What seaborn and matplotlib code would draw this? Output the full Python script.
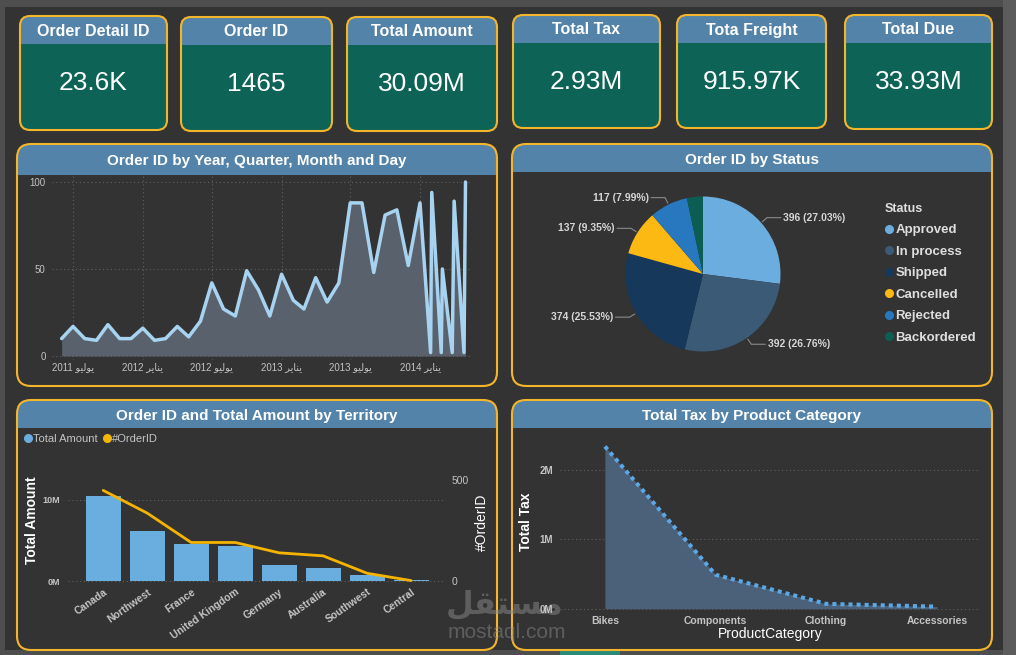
import numpy as np
import pandas as pd
import matplotlib.pyplot as plt
import matplotlib.dates as mdates
from matplotlib.patches import FancyBboxPatch, Rectangle
from matplotlib.lines import Line2D
from matplotlib.ticker import FuncFormatter
import seaborn as sns

# KPI cards
kpi_titles = ['Order Detail ID', 'Order ID', 'Total Amount', 'Total Tax', 'Tota Freight', 'Total Due']
kpi_values = ['23.6K', '1465', '30.09M', '2.93M', '915.97K', '33.93M']

# orders by month (daily points at the end of the series)
month_starts = pd.date_range('2011-06-01', '2014-01-01', freq='MS')
monthly_orders = [10, 17, 10, 9, 18, 10, 10,
                  16, 9, 10, 17, 11, 20, 42, 27, 23, 49, 38, 23,
                  47, 32, 27, 45, 31, 42, 88, 88, 48, 81, 84, 52,
                  88]
tail_dates = pd.to_datetime(['2014-01-29', '2014-02-01', '2014-02-26', '2014-03-01',
                             '2014-03-27', '2014-04-01', '2014-04-27', '2014-05-01'])
tail_orders = [2, 94, 2, 50, 2, 89, 2, 100]
tick_dates = pd.to_datetime(['2011-07-01', '2012-01-01', '2012-07-01',
                             '2013-01-01', '2013-07-01', '2014-01-01'])

# orders by status
status_names = ['Approved', 'In process', 'Shipped', 'Cancelled', 'Rejected', 'Backordered']
status_counts = [396, 392, 374, 137, 117, 49]
status_colors = ['#6cade0', '#3a5a75', '#15385b', '#fdb913', '#2878bf', '#0d5e52']

# territories
territories = ['Canada', 'Northwest', 'France', 'United Kingdom', 'Germany',
               'Australia', 'Southwest', 'Central']
territory_amount = [10.55e6, 6.15e6, 4.6e6, 4.3e6, 2.0e6, 1.6e6, 0.8e6, 0.09e6]
territory_orders = [447, 335, 190, 190, 139, 124, 38, 2]

# tax by product category
categories = ['Bikes', 'Components', 'Clothing', 'Accessories']
category_tax = [2.34e6, 0.49e6, 0.07e6, 0.03e6]

# arabic words, glyphs already shaped and in display order
month_ar = {1: '\ufeae\ufef3\ufe8e\ufee8\ufef3', 7: '\ufeee\ufef4\ufedf\ufeee\ufef3'}
brand_ar = '\ufede\ufed8\ufe98\ufeb4\ufee3'

W, H = 1016, 655
PANEL = '#333333'
HEAD = '#5383a8'
TEAL = '#0d6356'
ORANGE = '#f2b52c'
TICK = '#c4c4c4'
GRID = '#606060'
BAR = '#6aaee0'
LINE_OR = '#f5b400'

sns.set_theme(style='white')
plt.rcParams['font.family'] = ['Liberation Sans', 'DejaVu Sans']
plt.rcParams['axes.facecolor'] = 'none'

fig = plt.figure(figsize=(W / 100, H / 100), dpi=100, facecolor='#4e4e4e')
bg = fig.add_axes([0, 0, 1, 1])
bg.set_xlim(0, W)
bg.set_ylim(H, 0)
bg.axis('off')
bg.add_patch(Rectangle((5, 7), 998, 643, fc='#333333', ec='none'))
bg.add_patch(Rectangle((1003, 0), 13, H, fc='#5c5c5c', ec='none'))
bg.add_patch(Rectangle((560, 651), 60, 4, fc='#2a8a7a', ec='none'))


def px_axes(x0, y0, x1, y1):
    ax = fig.add_axes([x0 / W, 1 - y1 / H, (x1 - x0) / W, (y1 - y0) / H])
    ax.set_facecolor('none')
    return ax


def box(x0, y0, x1, y1, head_h, body, r):
    style = f'round,pad=0,rounding_size={r}'
    shape = FancyBboxPatch((x0, y0), x1 - x0, y1 - y0, boxstyle=style, fc=body, ec='none', zorder=1)
    bg.add_patch(shape)
    head = Rectangle((x0, y0), x1 - x0, head_h, fc=HEAD, ec='none', zorder=2)
    bg.add_patch(head)
    head.set_clip_path(shape)
    bg.add_patch(FancyBboxPatch((x0, y0), x1 - x0, y1 - y0, boxstyle=style,
                                fc='none', ec=ORANGE, lw=1.5, zorder=3))


# cards
cards_x = [(20, 167), (181, 332), (347, 497), (513, 660), (677, 826), (845, 992)]
cards_y = [(16, 130), (17, 131), (17, 131), (15, 128), (15, 128), (15, 129)]
for (x0, x1), (y0, y1), t, v in zip(cards_x, cards_y, kpi_titles, kpi_values):
    box(x0, y0, x1, y1, 28, TEAL, 10)
    bg.text((x0 + x1) / 2, y0 + 15, t, color='white', fontsize=11.5, weight='bold',
            ha='center', va='center', zorder=4)
    bg.text((x0 + x1) / 2, y0 + 67, v, color='white', fontsize=19,
            ha='center', va='center', zorder=4)

# panels
panels = [(17, 144, 497, 386, 31, 'Order ID by Year, Quarter, Month and Day'),
          (512, 144, 992, 386, 28, 'Order ID by Status'),
          (17, 400, 497, 650, 28, 'Order ID and Total Amount by Territory'),
          (512, 400, 992, 650, 28, 'Total Tax by Product Category')]
for x0, y0, x1, y1, hh, title in panels:
    box(x0, y0, x1, y1, hh, PANEL, 14)
    bg.text((x0 + x1) / 2, y0 + hh / 2 + 2, title, color='white', fontsize=11, weight='bold',
            ha='center', va='center', zorder=4)

# ---- orders over time
df_time = pd.DataFrame({'date': list(month_starts) + list(tail_dates),
                        'orders': monthly_orders + tail_orders})
ax1 = px_axes(52, 176, 472, 360)
ax1.set_axisbelow(True)
ax1.fill_between(df_time['date'], df_time['orders'], color='#59626c', lw=0, zorder=1)
sns.lineplot(data=df_time, x='date', y='orders', ax=ax1, color='#a7d2f0', lw=2.5,
             sort=False, estimator=None, solid_joinstyle='round', solid_capstyle='round',
             zorder=2)
jul = mdates.date2num(tick_dates[0])
jan = mdates.date2num(tick_dates[-1])
ppd = (420 - 73) / (jan - jul)
ax1.set_xlim(jul - 21 / ppd, jan + 52 / ppd)
ax1.set_ylim(-2.3, 103.45)
ax1.set_yticks([0, 50, 100])
ax1.set_xticks(tick_dates)
ax1.set_xticklabels([f'{d.year} {month_ar[d.month]}' for d in tick_dates])
ax1.grid(True, color=GRID, ls=(0, (1, 2.5)), lw=0.8, zorder=0)
ax1.tick_params(colors=TICK, labelsize=7, length=0)
ax1.tick_params(axis='y', pad=4.5)
ax1.tick_params(axis='x', pad=1.5)
ax1.set_xlabel('')
ax1.set_ylabel('')
sns.despine(ax=ax1, left=True, bottom=True)

# ---- status pie
ax2 = px_axes(603, 174, 803, 374)
wedges, _ = ax2.pie(status_counts, colors=status_colors, startangle=90, counterclock=False,
                    wedgeprops={'linewidth': 0})
ax2.set_xlim(-1.29, 1.29)
ax2.set_ylim(-1.29, 1.29)
ax2.set_aspect('equal')
total = sum(status_counts)
for w, n in zip(wedges, status_counts):
    if n / total < 0.05:
        continue
    ang = np.deg2rad((w.theta1 + w.theta2) / 2)
    ex, ey = np.cos(ang), np.sin(ang)
    side = 1 if ex > 0 else -1
    kx, ky = 1.1 * ex, 1.1 * ey
    ax2.plot([1.02 * ex, kx, kx + side * 0.18], [1.02 * ey, ky, ky], color='#8a8a8a',
             lw=0.8, clip_on=False)
    ax2.text(kx + side * 0.21, ky, f'{n} ({n / total:.2%})', ha='left' if side > 0 else 'right',
             va='center', fontsize=7.5, weight='bold', color='#d6d6d6')
handles = [Line2D([], [], marker='o', ls='', color=c, markersize=5.5) for c in status_colors]
leg = ax2.legend(handles, status_names, title='Status', loc='upper left',
                 bbox_to_anchor=(885 / W, 1 - 203 / H), bbox_transform=fig.transFigure,
                 frameon=False, prop={'size': 9.5, 'weight': 'bold'},
                 title_fontproperties={'size': 9, 'weight': 'bold'}, labelcolor='#dedede',
                 alignment='left', handlelength=0.6, handletextpad=0.2, labelspacing=0.7,
                 borderpad=0, borderaxespad=0)
leg.get_title().set_color('#dedede')

# ---- territory bars + orders line
ax3 = px_axes(68, 470, 445, 584)
sns.barplot(x=territories, y=territory_amount, color=BAR, saturation=1, width=0.79,
            linewidth=0, ax=ax3)
ax3b = ax3.twinx()
sns.lineplot(x=territories, y=territory_orders, ax=ax3b, color=LINE_OR, lw=2, sort=False)
ax3.set_xlim(-0.8, 7.77)
ax3.set_ylim(-0.37e6, 13.7e6)
ax3b.set_ylim(-14.8, 547.6)
ax3.set_yticks([0, 10e6])
ax3.yaxis.set_major_formatter(FuncFormatter(lambda v, p: f'{v / 1e6:.0f}M'))
ax3b.set_yticks([0, 500])
ax3.grid(True, axis='y', color=GRID, ls=(0, (1, 2.5)), lw=0.8)
ax3b.grid(False)
ax3.tick_params(colors=TICK, length=0)
ax3.tick_params(axis='y', labelsize=6.5, pad=6)
ax3.tick_params(axis='x', labelsize=7.5, pad=2)
ax3b.tick_params(colors=TICK, length=0, labelsize=7.5, pad=5)
for lab in ax3.get_yticklabels():
    lab.set_fontweight('bold')
ax3.set_xticks(range(len(territories)))
ax3.set_xticklabels(territories, rotation=35, ha='right', rotation_mode='anchor',
                    fontweight='bold')
ax3.set_ylabel('Total Amount', color='white', fontsize=10, weight='bold')
ax3.yaxis.set_label_coords(-0.077, 0.56)
ax3b.set_ylabel('#OrderID', color='white', fontsize=10)
ax3b.yaxis.set_label_coords(1.08, 0.544)
ax3.set_xlabel('')
sns.despine(ax=ax3, left=True, bottom=True)
sns.despine(ax=ax3b, left=True, bottom=True, right=True)
lh = [Line2D([], [], marker='o', ls='', color=BAR, markersize=5.5),
      Line2D([], [], marker='o', ls='', color=LINE_OR, markersize=5.5)]
ax3b.legend(lh, ['Total Amount', '#OrderID'], loc='upper left', ncol=2,
            bbox_to_anchor=(25 / W, 1 - 434 / H), bbox_transform=fig.transFigure,
            frameon=False, fontsize=8, labelcolor=TICK, handlelength=0.6,
            handletextpad=0.15, columnspacing=0.5, borderpad=0, borderaxespad=0)

# ---- tax by category
ax4 = px_axes(560, 440, 980, 613)
ax4.fill_between(categories, category_tax, color='#4b6179', lw=0)
sns.lineplot(x=categories, y=category_tax, ax=ax4, color='#5aa8e6', lw=2.9,
             linestyle=(0, (1, 1)), sort=False)
ax4.set_xlim(-0.406, 3.39)
ax4.set_ylim(-0.062e6, 2.433e6)
ax4.set_yticks([0, 1e6, 2e6])
ax4.yaxis.set_major_formatter(FuncFormatter(lambda v, p: f'{v / 1e6:.0f}M'))
ax4.grid(True, axis='y', color=GRID, ls=(0, (1, 2.5)), lw=0.8)
ax4.tick_params(colors=TICK, length=0)
ax4.tick_params(axis='y', labelsize=7, pad=5)
ax4.tick_params(axis='x', labelsize=7.5, pad=2)
for lab in ax4.get_xticklabels() + ax4.get_yticklabels():
    lab.set_fontweight('bold')
ax4.set_xlabel('ProductCategory', color='white', fontsize=10)
ax4.xaxis.set_label_coords(0.5, -0.081)
ax4.set_ylabel('Total Tax', color='white', fontsize=10, weight='bold')
ax4.yaxis.set_label_coords(-0.064, 0.526)
sns.despine(ax=ax4, left=True, bottom=True)

# watermark
bg.text(505, 605, brand_ar, fontsize=23, weight='bold', color='#8a8a8a', alpha=0.5,
        ha='center', va='center', family='DejaVu Sans', zorder=10)
bg.text(507, 632, 'mostaql.com', fontsize=15, color='#8a8a8a', alpha=0.5,
        ha='center', va='center', zorder=10)

fig.savefig('out.png', dpi=100, facecolor=fig.get_facecolor())
